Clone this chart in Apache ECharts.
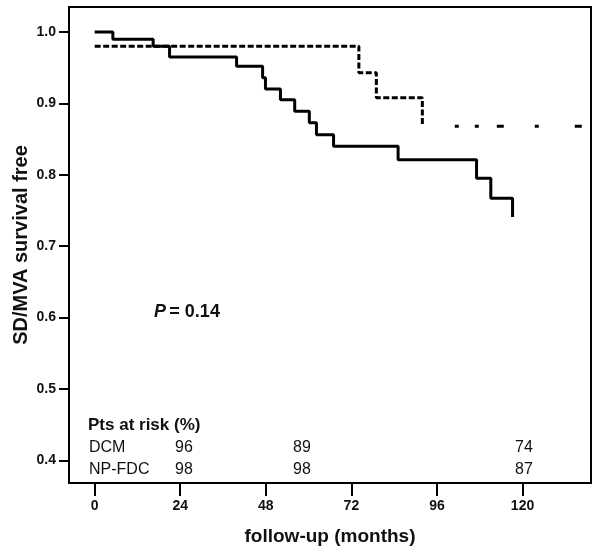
<!DOCTYPE html>
<html>
<head>
<meta charset="utf-8">
<script src="https://cdn.jsdelivr.net/npm/echarts@6/dist/echarts.min.js"></script>
<style>html,body{margin:0;padding:0;background:#fff;}#c{width:602px;height:557px;}</style>
</head>
<body>
<div id="c"></div>
<script>
// ---- data ----
const xTicks = [0, 24, 48, 72, 96, 120];
const yTicks = [0.4, 0.5, 0.6, 0.7, 0.8, 0.9, 1.0];
const dcmTime = [0, 5.1, 16.4, 21.0, 39.8, 47.1, 47.9, 52.1, 56.1, 60.2, 62.2, 67.0, 85.1, 107.1, 111.1, 117.2];
const dcmSurv = [1.000, 0.990, 0.980, 0.965, 0.952, 0.936, 0.920, 0.905, 0.889, 0.873, 0.856, 0.840, 0.821, 0.795, 0.767, 0.741];
const npTime = [0, 74.1, 79.0, 91.9];
const npSurv = [0.980, 0.943, 0.908, 0.869];
const npTailTime = [101.0, 139.2];
const npTailSurv = [0.868, 0.868];
const riskGroups = ['DCM', 'NP-FDC'];
const riskDCM = [96, 89, 74];
const riskNPFDC = [98, 98, 87];
const pText = '0.14';

// ---- layout ----
const FONT = '"Liberation Sans", Arial, sans-serif';
const TXT = '#111';
const zip = (a, b) => a.map((v, i) => [v, b[i]]);

const chart = echarts.init(document.getElementById('c'), null, {renderer: 'canvas'});

const riskColX = [184, 302, 524];
const riskRowY = [447.7, 470];
const graphics = [];
graphics.push({type: 'text', x: 88, y: 425.7, style: {text: 'Pts at risk (%)', font: 'bold 17px ' + FONT, fill: TXT, verticalAlign: 'middle'}});
const riskRows = [riskDCM, riskNPFDC];
riskGroups.forEach((g, r) => {
  graphics.push({type: 'text', x: 89, y: riskRowY[r], style: {text: g, font: '16px ' + FONT, fill: TXT, verticalAlign: 'middle'}});
  riskRows[r].forEach((v, c) => {
    graphics.push({type: 'text', x: riskColX[c], y: riskRowY[r], style: {text: String(v), font: '16px ' + FONT, fill: TXT, align: 'center', verticalAlign: 'middle'}});
  });
});
graphics.push({type: 'text', x: 154, y: 311.7, style: {
  text: '{i|P} {b|= ' + pText + '}',
  verticalAlign: 'middle',
  rich: {
    i: {font: 'italic bold 18px ' + FONT, fill: TXT},
    b: {font: 'bold 18px ' + FONT, fill: TXT}
  }
}});

const option = {
  animation: false,
  backgroundColor: '#fff',
  grid: {left: 69, top: 7, right: 11, bottom: 74, show: true, borderColor: '#000', borderWidth: 2, containLabel: false, outerBoundsMode: 'none'},
  xAxis: {
    type: 'value', min: -7.2, max: 139.2,
    name: 'follow-up (months)', nameLocation: 'middle', nameGap: 44, nameMoveOverlap: false,
    nameTextStyle: {fontFamily: FONT, fontWeight: 'bold', fontSize: 19, color: TXT},
    axisLine: {show: true, onZero: false, lineStyle: {color: '#000', width: 2}},
    axisTick: {show: true, length: 13, lineStyle: {color: '#000', width: 2}, customValues: xTicks},
    axisLabel: {show: true, margin: 16, fontFamily: FONT, fontWeight: 'bold', fontSize: 14, color: TXT, customValues: xTicks},
    splitLine: {show: false}
  },
  yAxis: {
    type: 'value', min: 0.3683, max: 1.035,
    name: 'SD/MVA survival free', nameLocation: 'middle', nameGap: 38, nameMoveOverlap: false,
    nameTextStyle: {fontFamily: FONT, fontWeight: 'bold', fontSize: 20, color: TXT},
    axisLine: {show: true, onZero: false, lineStyle: {color: '#000', width: 2}},
    axisTick: {show: true, length: 10, lineStyle: {color: '#000', width: 2}, customValues: yTicks},
    axisLabel: {show: true, margin: 13, fontFamily: FONT, fontWeight: 'bold', fontSize: 14, color: TXT, customValues: yTicks,
      formatter: v => Number(v).toFixed(1)},
    splitLine: {show: false}
  },
  series: [
    {name: 'NP-FDC', type: 'line', step: 'end', symbol: 'none', data: zip(npTime, npSurv),
      lineStyle: {color: '#000', width: 3, type: [6, 2.5]}, z: 2},
    {name: 'NP-FDC tail', type: 'line', symbol: 'none', data: zip(npTailTime, npTailSurv),
      lineStyle: {color: '#000', width: 3, type: [4, 16, 4, 18, 7, 31, 4, 36, 7, 30]}, z: 2},
    {name: 'DCM', type: 'line', step: 'end', symbol: 'none', data: zip(dcmTime, dcmSurv),
      lineStyle: {color: '#000', width: 3}, z: 3}
  ],
  graphic: graphics
};
chart.setOption(option);
</script>
</body>
</html>
